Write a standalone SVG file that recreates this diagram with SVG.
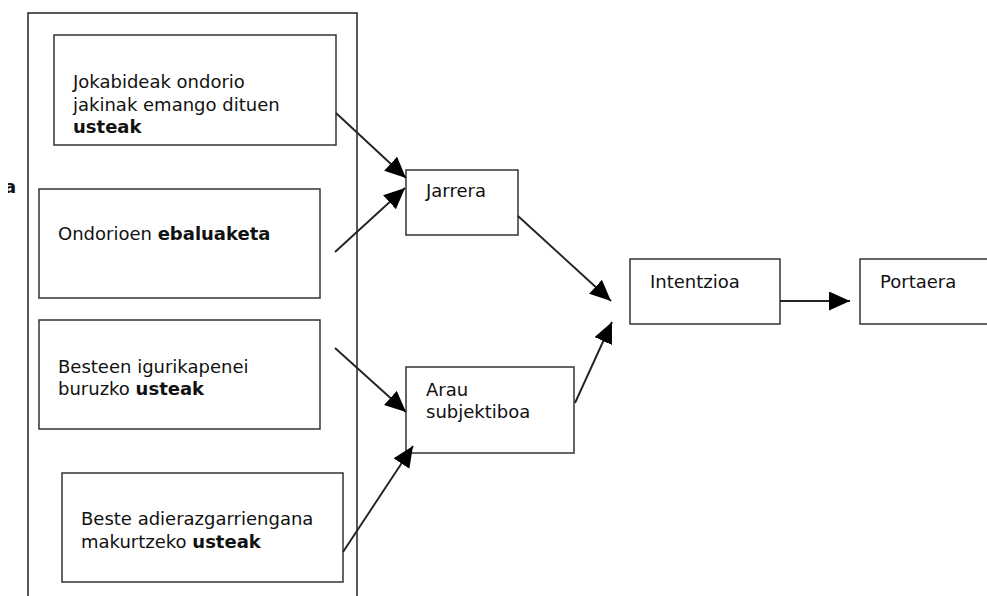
<svg xmlns="http://www.w3.org/2000/svg" width="987" height="596" viewBox="0 0 987 596">
<defs>
<style>
.box{fill:#fff;stroke:#333;stroke-width:1.5}
.t{font-family:"DejaVu Sans",Verdana,sans-serif;font-size:18px;fill:#111}
.b{font-weight:bold}
.c{stroke:#222;stroke-width:1.9;fill:none;marker-end:url(#ah)}
</style>
<marker id="ah" markerUnits="userSpaceOnUse" markerWidth="24" markerHeight="20" refX="21" refY="9.5" orient="auto">
<path d="M0,0 L21,9.5 L0,19 z" fill="#000"/>
</marker>
<clipPath id="cl"><rect x="8" y="170" width="20" height="30"/></clipPath>
</defs>
<rect width="987" height="596" fill="#fff"/>
<text class="t b" x="4" y="193" clip-path="url(#cl)">a</text>
<g id="container"><path d="M28,600 V13 H357 V600" fill="none" stroke="#222" stroke-width="1.5"/></g>
<g id="n1"><rect class="box" x="54" y="35" width="282" height="110"/>
<text class="t" x="73" y="88">Jokabideak ondorio</text>
<text class="t" x="73" y="111">jakinak emango dituen</text>
<text class="t b" x="73" y="133">usteak</text></g>
<g id="n2"><rect class="box" x="39" y="189" width="281" height="109"/>
<text class="t" x="58" y="240">Ondorioen <tspan class="b">ebaluaketa</tspan></text></g>
<g id="n3"><rect class="box" x="39" y="320" width="281" height="109"/>
<text class="t" x="58" y="373">Besteen igurikapenei</text>
<text class="t" x="58" y="395">buruzko <tspan class="b">usteak</tspan></text></g>
<g id="n4"><rect class="box" x="62" y="473" width="281" height="109"/>
<text class="t" x="81" y="525">Beste adierazgarriengana</text>
<text class="t" x="81" y="548">makurtzeko <tspan class="b">usteak</tspan></text></g>
<g id="jarrera"><rect class="box" x="406" y="170" width="112" height="65"/>
<text class="t" x="426" y="197">Jarrera</text></g>
<g id="arau"><rect class="box" x="406" y="367" width="168" height="86"/>
<text class="t" x="426" y="396">Arau</text>
<text class="t" x="426" y="418">subjektiboa</text></g>
<g id="intentzioa"><rect class="box" x="630" y="259" width="150" height="65"/>
<text class="t" x="650" y="288">Intentzioa</text></g>
<g id="portaera"><rect class="box" x="860" y="259" width="140" height="65"/>
<text class="t" x="880" y="288">Portaera</text></g>
<g id="connectors">
<line class="c" x1="336" y1="113" x2="406" y2="178"/>
<line class="c" x1="335" y1="252" x2="405" y2="188"/>
<line class="c" x1="335" y1="348" x2="406" y2="412"/>
<line class="c" x1="343" y1="552" x2="413" y2="446"/>
<line class="c" x1="518" y1="216" x2="611" y2="301"/>
<line class="c" x1="575" y1="403" x2="612" y2="322"/>
<line class="c" x1="780" y1="301" x2="850" y2="301"/>
</g>
</svg>
